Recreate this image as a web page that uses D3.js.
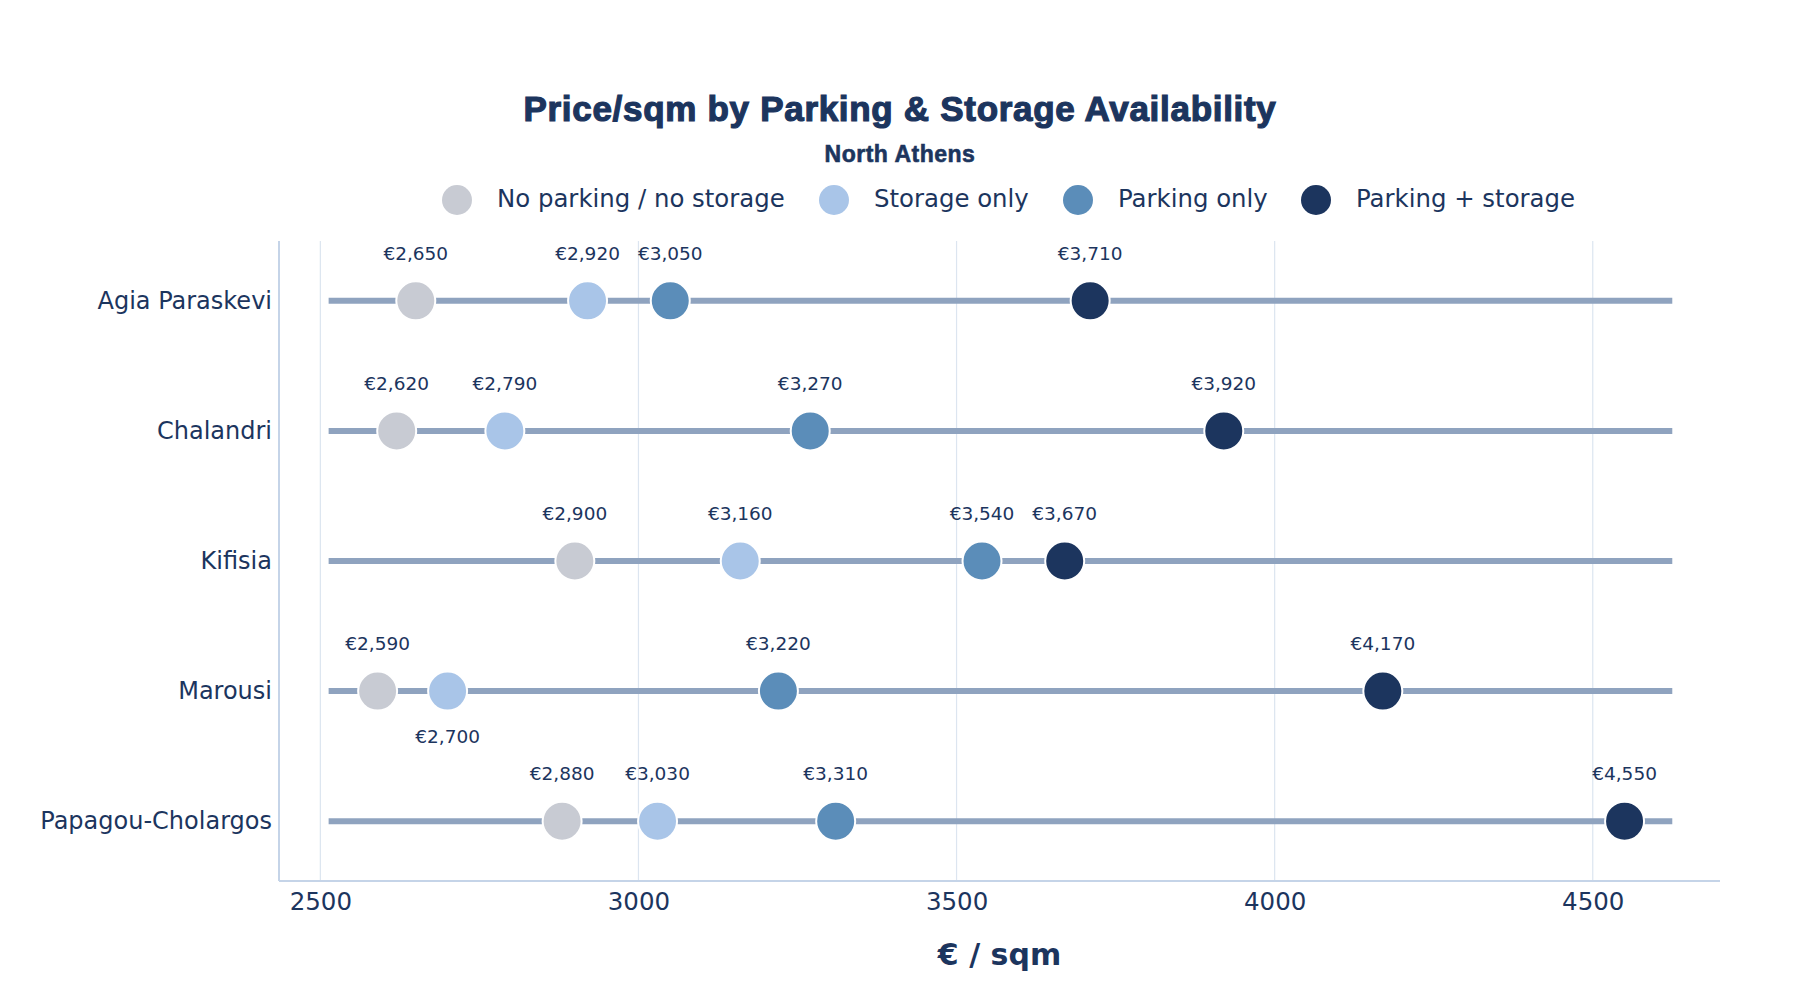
<!DOCTYPE html>
<html>
<head>
<meta charset="utf-8">
<script src="https://cdn.jsdelivr.net/npm/d3@7"></script>
<style>
  body { margin: 0; background: #fff; }
  text { font-family: Verdana, "DejaVu Sans", sans-serif; fill: #1c355e; }
</style>
</head>
<body>
<div id="chart"></div>
<script>
// data
const areas = ["Agia Paraskevi", "Chalandri", "Kifisia", "Marousi", "Papagou-Cholargos"];
const seriesNames = ["No parking / no storage", "Storage only", "Parking only", "Parking + storage"];
const noParkingNoStorage = [2650, 2620, 2900, 2590, 2880];
const storageOnly = [2920, 2790, 3160, 2700, 3030];
const parkingOnly = [3050, 3270, 3540, 3220, 3310];
const parkingAndStorage = [3710, 3920, 3670, 4170, 4550];
const xTicks = [2500, 3000, 3500, 4000, 4500];
// labels that sit under their marker instead of above
const labelsBelow = [["Marousi", "Storage only"]];

const colors = ["#c8cbd3", "#a9c5e8", "#5b8db9", "#1c355e"];

const svgWidth = 1800, svgHeight = 1000;
const margin = { top: 241, right: 80, bottom: 119, left: 279 };
const width = svgWidth - margin.left - margin.right,
    height = svgHeight - margin.top - margin.bottom;

const svg = d3.select("#chart")
    .append("svg")
    .attr("width", svgWidth)
    .attr("height", svgHeight);

const series = [noParkingNoStorage, storageOnly, parkingOnly, parkingAndStorage];
const allValues = series.flat();

const x = d3.scaleLinear()
    .domain([2435, 4700])
    .range([0, width]);

const y = d3.scalePoint()
    .domain(areas)
    .range([0, height])
    .padding(0.46);

const g = svg.append("g")
    .attr("transform", `translate(${margin.left}, ${margin.top})`);

// vertical grid
g.append("g")
    .selectAll("line")
    .data(xTicks)
    .join("line")
    .attr("x1", d => x(d)).attr("x2", d => x(d))
    .attr("y1", 0).attr("y2", height)
    .attr("stroke", "#dce5f0")
    .attr("stroke-width", 1.2);

// axis lines
g.append("line")
    .attr("x1", 0).attr("x2", 0).attr("y1", 0).attr("y2", height)
    .attr("stroke", "#c5d4e8").attr("stroke-width", 2);
g.append("line")
    .attr("x1", 0).attr("x2", width).attr("y1", height).attr("y2", height)
    .attr("stroke", "#c5d4e8").attr("stroke-width", 2);

// x axis
const xAxis = d3.axisBottom(x).tickValues(xTicks).tickSize(0).tickPadding(12).tickFormat(d3.format("d"));
g.append("g")
    .attr("transform", `translate(0, ${height})`)
    .call(xAxis)
    .call(a => a.select(".domain").remove())
    .selectAll("text")
    .style("font-size", "24.5px")
    .attr("fill", "#1c355e");

// y axis
const yAxis = d3.axisLeft(y).tickSize(0).tickPadding(7);
g.append("g")
    .call(yAxis)
    .call(a => a.select(".domain").remove())
    .selectAll("text")
    .style("font-size", "24px")
    .attr("fill", "#1c355e");

// connecting lines across each row
const lineLo = d3.min(allValues) - 77,
    lineHi = d3.max(allValues) + 75;
g.append("g")
    .selectAll("line")
    .data(areas)
    .join("line")
    .attr("x1", x(lineLo)).attr("x2", x(lineHi))
    .attr("y1", d => y(d)).attr("y2", d => y(d))
    .attr("stroke", "#8fa3bf")
    .attr("stroke-width", 6);

// dots and labels
const fmt = d3.format(",");
series.forEach((vals, si) => {
    const pts = areas.map((a, i) => ({ area: a, value: vals[i], name: seriesNames[si] }));
    const sg = g.append("g");
    sg.selectAll("circle")
        .data(pts)
        .join("circle")
        .attr("cx", d => x(d.value))
        .attr("cy", d => y(d.area))
        .attr("r", 19.5)
        .attr("fill", colors[si])
        .attr("stroke", "#fff")
        .attr("stroke-width", 2);
    sg.selectAll("text")
        .data(pts)
        .join("text")
        .attr("x", d => x(d.value))
        .attr("y", d => {
            const below = labelsBelow.some(l => l[0] === d.area && l[1] === d.name);
            return y(d.area) + (below ? 47 : -46);
        })
        .attr("text-anchor", "middle")
        .attr("dominant-baseline", "middle")
        .style("font-size", "18.5px")
        .text(d => "€" + fmt(d.value));
});

// titles
svg.append("text")
    .attr("x", 900).attr("y", 112)
    .attr("text-anchor", "middle")
    .attr("dominant-baseline", "middle")
    .style("font-family", "'Liberation Sans', Arial, sans-serif")
    .style("font-weight", "bold")
    .style("font-size", "35px")
    .style("letter-spacing", "0.7px")
    .attr("stroke", "#1c355e")
    .attr("stroke-width", 1.2)
    .text("Price/sqm by Parking & Storage Availability");

svg.append("text")
    .attr("x", 900).attr("y", 156)
    .attr("text-anchor", "middle")
    .attr("dominant-baseline", "middle")
    .style("font-family", "'Liberation Sans', Arial, sans-serif")
    .style("font-weight", "bold")
    .style("font-size", "23px")
    .style("letter-spacing", "0.5px")
    .attr("stroke", "#1c355e")
    .attr("stroke-width", 0.6)
    .text("North Athens");

svg.append("text")
    .attr("x", margin.left + width / 2).attr("y", 956)
    .attr("text-anchor", "middle")
    .attr("dominant-baseline", "middle")
    .style("font-weight", "bold")
    .style("font-size", "30px")
    .text("€ / sqm");

// legend
const legendX = [457, 834, 1078, 1316];
const legend = svg.append("g")
    .selectAll("g")
    .data(seriesNames)
    .join("g")
    .attr("transform", (d, i) => `translate(${legendX[i]}, 200)`);
legend.append("circle")
    .attr("r", 15)
    .attr("fill", (d, i) => colors[i]);
legend.append("text")
    .attr("x", 40)
    .attr("dominant-baseline", "middle")
    .style("font-size", "24.4px")
    .text(d => d);
</script>
</body>
</html>
